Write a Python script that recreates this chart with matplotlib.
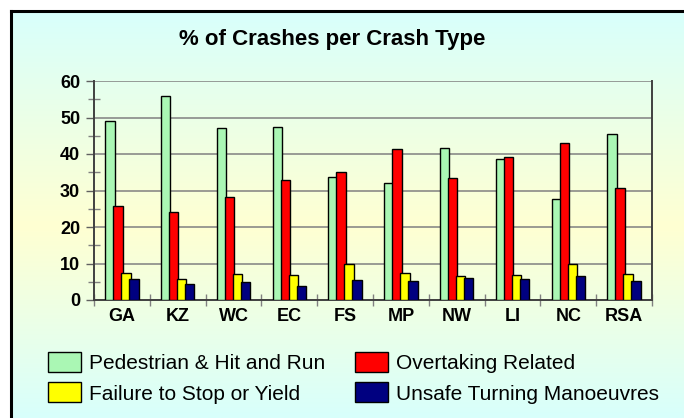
import numpy as np
import matplotlib
matplotlib.use("Agg")
import matplotlib.pyplot as plt
from matplotlib.colors import LinearSegmentedColormap
from matplotlib.patches import Patch
from matplotlib.ticker import MultipleLocator, FixedLocator, NullFormatter

plt.rcParams['font.family'] = ['Liberation Sans', 'DejaVu Sans']

regions = ["GA", "KZ", "WC", "EC", "FS", "MP", "NW", "LI", "NC", "RSA"]
pedestrian = [49.0, 55.8, 47.1, 47.3, 33.7, 32.0, 41.7, 38.5, 27.8, 45.4]
overtaking = [25.8, 24.2, 28.3, 32.8, 35.0, 41.3, 33.3, 39.3, 43.1, 30.8]
failure = [7.3, 5.8, 7.0, 6.8, 9.8, 7.3, 6.7, 6.9, 9.9, 7.0]
turning = [5.8, 4.3, 4.8, 3.8, 5.4, 5.2, 6.1, 5.8, 6.7, 5.1]

labels = ["Pedestrian & Hit and Run", "Overtaking Related",
          "Failure to Stop or Yield", "Unsafe Turning Manoeuvres"]
colors = ["#aaf7b4", "#ff0000", "#ffff00", "#000080"]
series = [pedestrian, overtaking, failure, turning]

W, H = 684, 418
fig = plt.figure(figsize=(W / 100, H / 100), dpi=100)
fig.patch.set_facecolor("white")

# gradient background panel (frame is cut off on the right and bottom)
bg = fig.add_axes([11 / W, 0, 1 - 11 / W, 1 - 11 / H])
cmap = LinearSegmentedColormap.from_list(
    "bg", [(0, "#d8fffc"), (0.53, "#ffffd2"), (1, "#d8fffc")])
bg.imshow(np.linspace(0, 1, 256).reshape(-1, 1), aspect="auto", cmap=cmap,
          extent=[0, 1, 0, 1])
bg.set_xticks([])
bg.set_yticks([])
for s in ["right", "bottom"]:
    bg.spines[s].set_visible(False)
for s in ["left", "top"]:
    bg.spines[s].set_linewidth(2.2)
    bg.spines[s].set_color("black")

ax = fig.add_axes([94 / W, 1 - 300 / H, (652 - 94) / W, (300 - 81) / H])
ax.patch.set_alpha(0)

x = np.arange(len(regions))
step = 0.143
width = 0.17
for i, (vals, c) in enumerate(zip(series, colors)):
    ax.bar(x + (i - 1.5) * step, vals, width, color=c, edgecolor="black",
           linewidth=1.0, zorder=3)

ax.set_xlim(-0.5, len(regions) - 0.5)
ax.set_ylim(0, 60)
ax.yaxis.set_major_locator(MultipleLocator(10))
ax.yaxis.set_minor_locator(MultipleLocator(5))
ax.grid(axis="y", which="major", color="#808080", linewidth=1.1, zorder=1)
ax.tick_params(axis="y", which="major", direction="out", length=6, width=1,
               color="#606060", labelsize=13, pad=4)
ax.tick_params(axis="y", which="minor", direction="inout", length=8, width=1,
               color="#808080")

ax.xaxis.set_major_locator(FixedLocator(np.arange(-0.5, len(regions), 1.0)))
ax.xaxis.set_major_formatter(NullFormatter())
ax.xaxis.set_minor_locator(FixedLocator(x))
ax.set_xticklabels(regions, minor=True)
ax.tick_params(axis="x", which="major", direction="inout", length=8,
               width=1, color="#808080")
ax.tick_params(axis="x", which="minor", length=0, labelsize=13, pad=6)
for lab in ax.get_yticklabels() + ax.get_xticklabels(minor=True):
    lab.set_fontweight("bold")

ax.spines["top"].set_visible(False)
for s in ["left", "bottom", "right"]:
    ax.spines[s].set_color("#404040")
    ax.spines[s].set_linewidth(1.4)

fig.text(332 / W, 1 - 40 / H, "% of Crashes per Crash Type", ha="center",
         va="center", fontsize=16, fontweight="bold")

# legend fills column by column, so reorder to read row by row
handles = [Patch(facecolor=c, edgecolor="black", linewidth=1.0) for c in colors]
order = [0, 2, 1, 3]
fig.legend([handles[i] for i in order], [labels[i] for i in order], ncol=2,
           loc="upper left", bbox_to_anchor=(48 / W, 1 - 352 / H),
           frameon=False, fontsize=15, handlelength=1.6, handleheight=1.1,
           handletextpad=0.35, columnspacing=1.45, labelspacing=0.45,
           borderpad=0, borderaxespad=0)

fig.savefig("out.png", dpi=100)
